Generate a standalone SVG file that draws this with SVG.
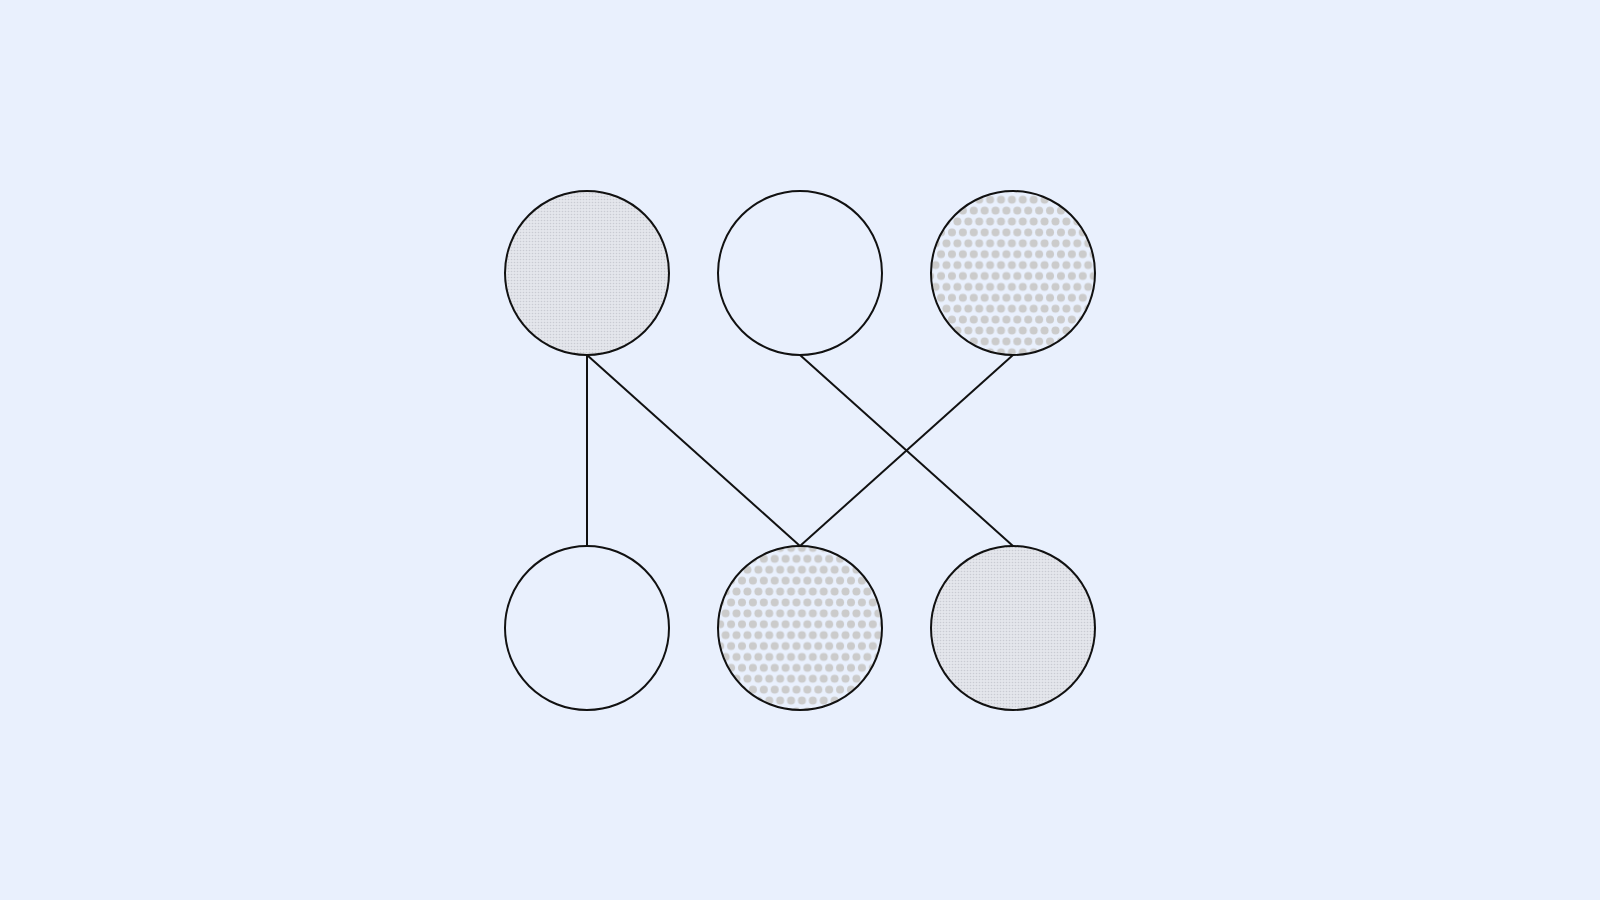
<svg xmlns="http://www.w3.org/2000/svg" width="1600" height="900" viewBox="0 0 1600 900">
  <defs>
    <pattern id="fine" width="3" height="3" patternUnits="userSpaceOnUse">
      <rect width="3" height="3" fill="#e4e6ec"/>
      <circle cx="1.5" cy="1.5" r="0.8" fill="#c9cbd3"/>
    </pattern>
    <pattern id="coarseA" width="10.9" height="21.8" patternUnits="userSpaceOnUse" x="3.65" y="-1.95">
      <rect width="10.9" height="21.8" fill="#e9f0fd"/>
      <circle cx="5.45" cy="5.45" r="4" fill="#cbcbcb"/>
      <circle cx="0" cy="16.35" r="4" fill="#cbcbcb"/>
      <circle cx="10.9" cy="16.35" r="4" fill="#cbcbcb"/>
    </pattern>
    <pattern id="coarseB" width="10.9" height="21.8" patternUnits="userSpaceOnUse" x="0.8" y="19.3">
      <rect width="10.9" height="21.8" fill="#e9f0fd"/>
      <circle cx="5.45" cy="5.45" r="4" fill="#cbcbcb"/>
      <circle cx="0" cy="16.35" r="4" fill="#cbcbcb"/>
      <circle cx="10.9" cy="16.35" r="4" fill="#cbcbcb"/>
    </pattern>
  </defs>
  <style>
    .node { stroke: #111111; stroke-width: 2; }
    .plain { fill: #e9f0fd; }
    .fine { fill: url(#fine); }
    .edge { stroke: #111111; stroke-width: 2; fill: none; }
  </style>
  <rect width="1600" height="900" fill="#e9f0fd"/>
  <g id="connectors">
    <line class="edge" x1="587" y1="355" x2="587" y2="546"/>
    <line class="edge" x1="587" y1="355" x2="800" y2="546"/>
    <line class="edge" x1="800" y1="355" x2="1013" y2="546"/>
    <line class="edge" x1="1013" y1="355" x2="800" y2="546"/>
  </g>
  <g id="n1"><circle class="node fine" cx="587" cy="273" r="82"/></g>
  <g id="n2"><circle class="node plain" cx="800" cy="273" r="82"/></g>
  <g id="n3"><circle class="node" fill="url(#coarseA)" cx="1013" cy="273" r="82"/></g>
  <g id="n4"><circle class="node plain" cx="587" cy="628" r="82"/></g>
  <g id="n5"><circle class="node" fill="url(#coarseB)" cx="800" cy="628" r="82"/></g>
  <g id="n6"><circle class="node fine" cx="1013" cy="628" r="82"/></g>
</svg>
